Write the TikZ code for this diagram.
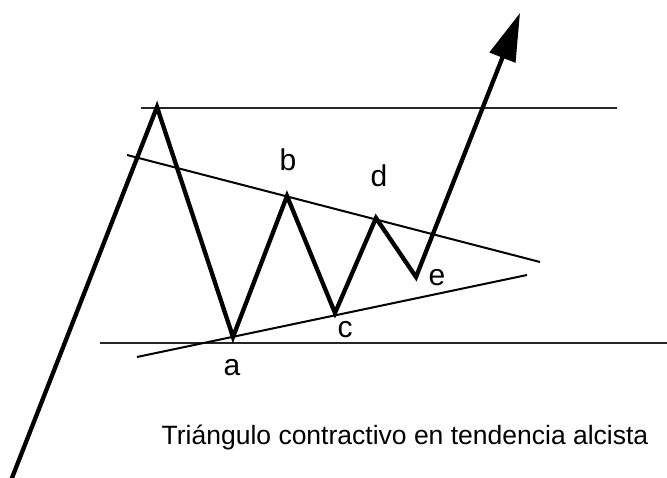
\documentclass[tikz,border=0pt]{standalone}
\usepackage{fontspec}
\setmainfont{Liberation Sans}
\usetikzlibrary{arrows.meta}
\begin{document}
\begin{tikzpicture}[x=1pt,y=-1pt,
  wave/.style={line width=4.3pt,line join=miter,line cap=butt},
  guide/.style={line width=2pt,black!85},
  trend/.style={line width=2pt},
  lbl/.style={inner sep=0pt,font=\fontsize{30}{33}\selectfont}]
\useasboundingbox (0,0) rectangle (667,478);
% horizontal guide lines
\coordinate (t1) at (141,108);
\coordinate (t2) at (617,108);
\coordinate (h1) at (100,343);
\coordinate (h2) at (667,343);
\draw[guide] (t1) -- (t2);
\draw[guide] (h1) -- (h2);
% trend lines
\coordinate (u1) at (127,155);
\coordinate (u2) at (540,262);
\coordinate (l1) at (137,357);
\coordinate (l2) at (527,275);
\draw[trend] (u1) -- (u2);
\draw[trend] (l1) -- (l2);
% wave
\coordinate (s) at (10,483);
\coordinate (p) at (157,107);
\coordinate (A) at (233,337);
\coordinate (B) at (287,196);
\coordinate (C) at (335,313);
\coordinate (D) at (376,218);
\coordinate (E) at (416,277);
\coordinate (tip) at (520,13);
\draw[wave,-{Triangle[length=48pt,width=27pt]}] (s) -- (p) -- (A) -- (B) -- (C) -- (D) -- (E) -- (tip);
% labels
\node[lbl] (la) at (232,368) {a};
\node[lbl] (lb) at (288,160) {b};
\node[lbl] (lc) at (345,330) {c};
\node[lbl] (ld) at (379,176) {d};
\node[lbl] (le) at (437,278) {e};
\node[inner sep=0pt,anchor=base,font=\fontsize{26.5}{29}\selectfont] (cap) at (405,444) {Triángulo contractivo en tendencia alcista};
\end{tikzpicture}
\end{document}
